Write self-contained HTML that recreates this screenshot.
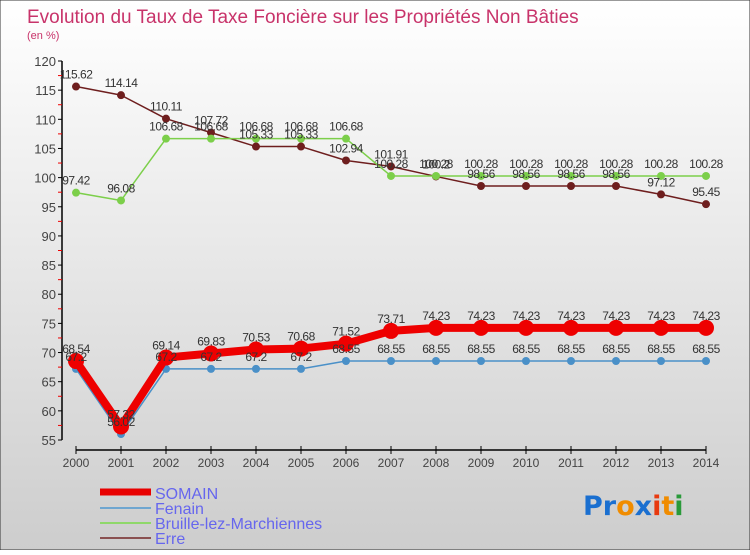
<!DOCTYPE html>
<html><head><meta charset="utf-8"><style>
html,body{margin:0;padding:0;}
body{width:750px;height:550px;overflow:hidden;font-family:"Liberation Sans",sans-serif;}
</style></head><body>
<svg id="chart" width="750" height="550" xmlns="http://www.w3.org/2000/svg">
<defs><linearGradient id="bg" x1="0" y1="0" x2="0" y2="1"><stop offset="0" stop-color="#ffffff"/><stop offset="1" stop-color="#cdcdcd"/></linearGradient></defs>
<rect x="0" y="0" width="750" height="550" fill="url(#bg)" stroke="#333" stroke-width="1"/>
<text x="27" y="23" font-size="19" fill="#c8336a">Evolution du Taux de Taxe Foncière sur les Propriétés Non Bâties</text>
<text x="27" y="39" font-size="11" fill="#c8336a">(en %)</text>
<g id="axes"></g><g id="series"></g><g id="labels"></g>
<g>
<line x1="100" y1="492" x2="151" y2="492" stroke="#e80000" stroke-width="7"/>
<text x="155" y="499" font-size="16" fill="#6666ee">SOMAIN</text>
<line x1="100" y1="508" x2="151" y2="508" stroke="#6fa6d0" stroke-width="2"/>
<text x="155" y="514" font-size="16" fill="#6666ee">Fenain</text>
<line x1="100" y1="523" x2="151" y2="523" stroke="#8fd86a" stroke-width="2"/>
<text x="155" y="529" font-size="16" fill="#6666ee">Bruille-lez-Marchiennes</text>
<line x1="100" y1="538" x2="151" y2="538" stroke="#8a5050" stroke-width="2"/>
<text x="155" y="544" font-size="16" fill="#6666ee">Erre</text>
</g>
<g font-size="27" font-weight="bold" font-family="'DejaVu Sans',sans-serif">
<text x="583" y="515"><tspan fill="#1a6fd0">Pr</tspan><tspan fill="#f08c00">o</tspan><tspan fill="#1a6fd0">x</tspan><tspan fill="#e83a10">i</tspan><tspan fill="#f08c00">t</tspan><tspan fill="#2a9a3a">i</tspan></text>
</g>
</svg>
<script>
const years=[2000,2001,2002,2003,2004,2005,2006,2007,2008,2009,2010,2011,2012,2013,2014];
const somain=[68.54,57.32,69.14,69.83,70.53,70.68,71.52,73.71,74.23,74.23,74.23,74.23,74.23,74.23,74.23];
const fenain=[67.2,56.02,67.2,67.2,67.2,67.2,68.55,68.55,68.55,68.55,68.55,68.55,68.55,68.55,68.55];
const bruille=[97.42,96.08,106.68,106.68,106.68,106.68,106.68,100.28,100.28,100.28,100.28,100.28,100.28,100.28,100.28];
const erre=[115.62,114.14,110.11,107.72,105.33,105.33,102.94,101.91,100.2,98.56,98.56,98.56,98.56,97.12,95.45];
const yTicks=[55,60,65,70,75,80,85,90,95,100,105,110,115,120];
const NS="http://www.w3.org/2000/svg";
function x(i){return 76+i*45;}
function y(v){return 61+(120-v)*(379/65);}
function mk(tag,attrs,parent){const e=document.createElementNS(NS,tag);for(const k in attrs)e.setAttribute(k,attrs[k]);parent.appendChild(e);return e;}
const axes=document.getElementById('axes'),ser=document.getElementById('series'),lab=document.getElementById('labels');
let a=mk('line',{x1:62,y1:y(120),x2:62,y2:y(55),stroke:'#000','stroke-width':1.5},axes);


yTicks.forEach(t=>{
  mk('line',{x1:58,y1:y(t),x2:62,y2:y(t),stroke:'#000'},axes);
  if(t<120)mk('line',{x1:58,y1:y(t+2.5),x2:62,y2:y(t+2.5),stroke:'#e00'},axes);
  const tx=mk('text',{x:56,y:y(t)+5,'font-size':13,'text-anchor':'end',fill:'#444'},axes);
  tx.textContent=t;
  
  
});
let xa=mk('line',{x1:x(0),y1:450,x2:x(14),y2:450,stroke:'#000','stroke-width':1.5},axes);


years.forEach((yr,i)=>{
  mk('line',{x1:x(i),y1:446,x2:x(i),y2:454,stroke:'#000'},axes);
  const tx=mk('text',{x:x(i),y:467,'font-size':12,'text-anchor':'middle',fill:'#444'},axes);
  tx.textContent=yr;
  
  
});
function series(name,data,color,w,r){
  const pts=data.map((v,i)=>x(i)+','+y(v)).join(' ');
  const pl=mk('polyline',{points:pts,fill:'none',stroke:color,'stroke-width':w,'stroke-linejoin':'round'},ser);
  
  
  data.forEach((v,i)=>{
    const c=mk('circle',{cx:x(i),cy:y(v),r:r,fill:color},ser);
    
    
    const t=mk('text',{x:x(i),y:y(v)-8,'font-size':12,'text-anchor':'middle',fill:'#333','letter-spacing':'-0.5'},lab);
    t.textContent=String(v);
    
    
  });
}
series('erre',erre,'#6e1e1e',1.5,4);
series('bruille',bruille,'#7ccf4a',1.5,4);
series('fenain',fenain,'#4a90c8',1.5,4);
series('somain',somain,'#ee0000',8,8);
</script>
</body></html>
